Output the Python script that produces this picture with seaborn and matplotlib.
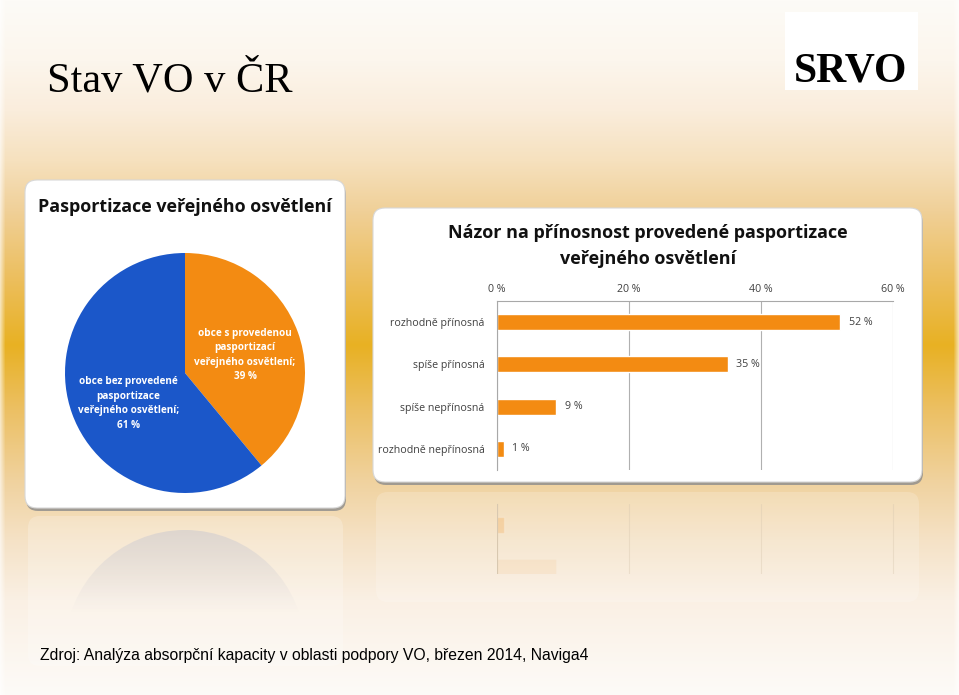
import numpy as np
import pandas as pd
import matplotlib
matplotlib.use("Agg")
import matplotlib.pyplot as plt
from matplotlib.patches import FancyBboxPatch, Circle, Rectangle
import seaborn as sns

# ---------------- data ----------------
pie_labels = ["obce s provedenou\npasportizací\nveřejného osvětlení;", "obce bez provedené\npasportizace\nveřejného osvětlení;"]
pie_values = [39, 61]

bar_categories = ["rozhodně přínosná", "spíše přínosná", "spíše nepřínosná", "rozhodně nepřínosná"]
bar_values = [52, 35, 9, 1]
x_ticks = [0, 20, 40, 60]
x_tick_labels = ["0 %", "20 %", "40 %", "60 %"]

slide_title = "Stav VO v ČR"
pie_title = "Pasportizace veřejného osvětlení"
bar_title = "Názor na přínosnost provedené pasportizace\nveřejného osvětlení"
source = "Zdroj: Analýza absorpční kapacity v oblasti podpory VO, březen 2014, Naviga4"

ORANGE = "#F38B12"
BLUE = "#1B57C9"
W, H = 959, 695

sns.set_style("white")
plt.rcParams['font.family'] = ['Open Sans', 'DejaVu Sans']

fig = plt.figure(figsize=(W / 100, H / 100), dpi=100)

def rect(x0, y0, x1, y1):
    return [x0 / W, 1 - y1 / H, (x1 - x0) / W, (y1 - y0) / H]

# ---------------- background gradient ----------------
bg = fig.add_axes([0, 0, 1, 1])
stops_y = [0, 60, 110, 160, 210, 280, 345, 410, 480, 540, 600, 695]
stops_c = np.array([(253, 251, 247), (252, 246, 237), (250, 237, 220), (246, 225, 190),
                    (240, 208, 152), (236, 190, 92), (232, 177, 35), (236, 192, 100),
                    (240, 210, 158), (245, 226, 198), (250, 240, 228), (253, 251, 248)]) / 255
yy = np.arange(H)
prof = np.stack([np.interp(yy, stops_y, stops_c[:, k]) for k in range(3)], axis=1)
img = np.repeat(prof[:, None, :], W, axis=1)
xx = np.arange(W)
dx = np.minimum(xx, W - 1 - xx)
lighten = np.clip((5 - dx) / 5, 0, 1) * 0.6
img = img + lighten[None, :, None] * (1 - img)
bg.imshow(np.clip(img, 0, 1), aspect="auto", extent=[0, W, H, 0])
bg.set_xlim(0, W)
bg.set_ylim(H, 0)
bg.axis("off")

# slide title
bg.text(47, 92, slide_title, fontsize=30.5, family=["Liberation Serif", "DejaVu Serif"], color="black",
        va="baseline", ha="left")

# logo (approximation)
bg.add_patch(Rectangle((785, 12), 133, 78, facecolor="white", edgecolor="none"))
bg.text(851, 82, "SRVO", fontsize=30, family=["Liberation Serif"], weight="bold", color="black",
        ha="center", va="baseline")

# source line
bg.text(40, 660, source, fontsize=11.35, family=["Liberation Sans"], color="black", va="baseline", ha="left")

# ---------------- panels ----------------
def panel(x0, y0, x1, y1):
    sh = FancyBboxPatch((x0 + 1, y0 + 3), x1 - x0, y1 - y0, boxstyle="round,pad=0,rounding_size=12",
                        facecolor="#8c8c8c", edgecolor="none", alpha=0.8, zorder=2)
    bx = FancyBboxPatch((x0, y0), x1 - x0, y1 - y0, boxstyle="round,pad=0,rounding_size=12",
                        facecolor="white", edgecolor="#d8d8d8", lw=0.8, zorder=3)
    bg.add_patch(sh)
    bg.add_patch(bx)

panel(25, 180, 345, 508)
panel(373, 208, 922, 482)

# faint reflections of the panels
refl = FancyBboxPatch((28, 516), 315, 150, boxstyle="round,pad=0,rounding_size=12",
                      facecolor="white", edgecolor="none", alpha=0.22, zorder=2)
bg.add_patch(refl)
refl2 = FancyBboxPatch((376, 492), 543, 110, boxstyle="round,pad=0,rounding_size=12",
                       facecolor="white", edgecolor="none", alpha=0.18, zorder=2)
bg.add_patch(refl2)
# pie reflection with fading gradient
circ = Circle((185, 650), 120, transform=bg.transData)
gy = np.linspace(0, 1, 200)[:, None]
grad = np.zeros((200, 2, 4))
grad[..., 0] = 0.78
grad[..., 1] = 0.78
grad[..., 2] = 0.82
grad[..., 3] = np.clip(0.5 * (1 - gy / 0.75), 0, 1)
im = bg.imshow(grad, extent=[65, 305, 640, 530], aspect="auto", zorder=2.5)
im.set_clip_path(circ)
bg.set_xlim(0, W)
bg.set_ylim(H, 0)

# panel titles
bg.text(185, 207, pie_title, fontsize=12.9, weight="bold", color="#111111", ha="center", va="center", zorder=5)
bg.text(648, 246, bar_title, fontsize=13.0, weight="bold", color="#111111", ha="center", va="center",
        linespacing=1.5, zorder=5)

# ---------------- pie ----------------
axp = fig.add_axes(rect(65, 253, 305, 493))
axp.set_zorder(5)
axp.pie(pie_values, colors=[ORANGE, BLUE], startangle=90, counterclock=False,
        wedgeprops=dict(linewidth=0))
axp.set_xlim(-1, 1)
axp.set_ylim(-1, 1)
axp.set_aspect("equal")
label_pos = [(0.50, 0.15), (-0.47, -0.255)]
for (lx, ly), lab, val in zip(label_pos, pie_labels, pie_values):
    axp.text(lx, ly, f"{lab}\n{val} %", ha="center", va="center", color="white",
             fontsize=7.2, weight="bold", linespacing=1.45)

# ---------------- bar chart ----------------
df = pd.DataFrame({"kat": bar_categories, "val": bar_values})
axb = fig.add_axes(rect(497, 301, 893, 470))
axb.set_zorder(5)
axb.patch.set_alpha(0)
sns.barplot(data=df, x="val", y="kat", color=ORANGE, width=0.38, orient="h",
            errorbar=None, ax=axb, saturation=1)
axb.set_xlim(0, 60)
axb.set_ylim(3.5, -0.5)
axb.xaxis.tick_top()
axb.set_xticks(x_ticks)
axb.set_xticklabels(x_tick_labels)
axb.set_xlabel("")
axb.set_ylabel("")
axb.grid(axis="x", color="#b0b0b0", lw=0.8)
axb.set_axisbelow(True)
axb.tick_params(axis="x", length=0, pad=4, labelsize=7.7, labelcolor="#404040")
axb.tick_params(axis="y", length=0, pad=9, labelsize=7.7, labelcolor="#404040")
axb.set_yticks([-0.5, 0.5, 1.5, 2.5, 3.5], minor=True)
axb.tick_params(axis="y", which="minor", length=4, color="#a0a0a0", width=0.8)
for s in ["right", "bottom"]:
    axb.spines[s].set_visible(False)
for s in ["top", "left"]:
    axb.spines[s].set_color("#a8a8a8")
    axb.spines[s].set_linewidth(0.8)
axb.bar_label(axb.containers[0], labels=[f"{v} %" for v in bar_values], padding=6,
              fontsize=7.7, color="#404040")

# faint mirrored reflection of the bar chart below the panel
axr = fig.add_axes(rect(497, 504, 893, 673))
axr.set_zorder(4)
axr.patch.set_alpha(0)
sns.barplot(data=df, x="val", y="kat", color=ORANGE, width=0.38, orient="h",
            errorbar=None, ax=axr, saturation=1, alpha=0.2)
axr.set_xlim(0, 60)
axr.set_ylim(-0.5, 3.5)
axr.grid(axis="x", color="#d8c8b0", lw=0.8, alpha=0.4)
axr.set_axisbelow(True)
axr.set_xticks(x_ticks)
axr.set_xticklabels([])
axr.set_yticks([])
axr.set_xlabel("")
axr.set_ylabel("")
for s in ["right", "top", "bottom"]:
    axr.spines[s].set_visible(False)
axr.spines["left"].set_color("#d8c8b0")
clip = Rectangle((497, 488), 420, 86, transform=bg.transData)
for art in list(axr.patches) + list(axr.get_xgridlines()) + [axr.spines["left"]]:
    art.set_clip_path(clip)
axr.patches[2].set_alpha(0.08)

fig.savefig("out.png", dpi=100)
